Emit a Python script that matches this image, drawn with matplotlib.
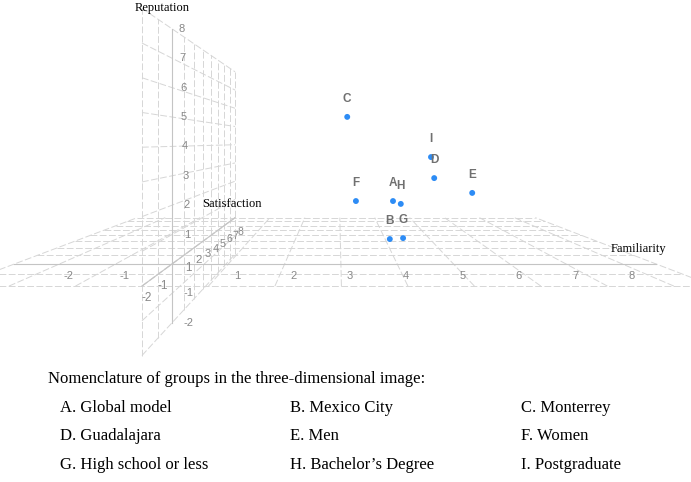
import matplotlib.pyplot as plt
import numpy as np

# groups plotted in the 3D view (familiarity, satisfaction, reputation)
groups = ['A', 'B', 'C', 'D', 'E', 'F', 'G', 'H', 'I']
group_names = ['Global model', 'Mexico City', 'Monterrey',
               'Guadalajara', 'Men', 'Women',
               'High school or less', 'Bachelor\u2019s Degree', 'Postgraduate']
familiarity = [4.15, 4.08, 3.15, 5.05, 5.88, 3.34, 4.37, 4.32, 4.98]
satisfaction = [3.0, 3.0, 3.0, 3.0, 3.0, 3.0, 3.0, 3.0, 3.0]
reputation = [1.68, 0.09, 5.20, 2.64, 2.02, 1.68, 0.13, 1.56, 3.52]

fam_ticks = [-2, -1, 1, 2, 3, 4, 5, 6, 7, 8]
sat_ticks = [-2, -1, 1, 2, 3, 4, 5, 6, 7, 8]
rep_ticks = [-2, -1, 1, 2, 3, 4, 5, 6, 7, 8]

# simple one-point perspective (pixel space of the figure)
VPX, VPY = 338.0, 142.0
DEPTH = 0.0766
OX, OY = 172.0, 264.0
KX, KZ = 56.3, 29.4


def proj(x, s, r):
    x, s, r = np.asarray(x, float), np.asarray(s, float), np.asarray(r, float)
    t = 1.0 / (1.0 + DEPTH * s)
    u = VPX + (OX + KX * x - VPX) * t
    v = VPY + (OY - KZ * r - VPY) * t
    return u, v


W, H = 691, 482
fig = plt.figure(figsize=(W / 100, H / 100), dpi=100)
ax = fig.add_axes([0, 0, 1, 1])
ax.set_xlim(0, W)
ax.set_ylim(H, 0)
ax.axis('off')

grid_kw = dict(color='#d6d6d6', lw=0.7, ls=(0, (7, 2.5)), zorder=1)
axis_kw = dict(color='#c4c4c4', lw=0.8, zorder=1)

# floor (reputation = 0)
x_lo, x_hi = -2.8, 8.6
for s in range(-2, 9):
    u, v = proj([x_lo, x_hi], [s, s], [0, 0])
    ax.plot(u, v, **grid_kw)
for x in [x_lo] + list(range(-2, 9)) + [x_hi]:
    u, v = proj([x, x], [-2, 8], [0, 0])
    ax.plot(u, v, **grid_kw)

# wall (familiarity = 0)
r_lo, r_hi = -2.0, 8.0
for r in range(-2, 9):
    u, v = proj([0, 0], [-2, 8], [r, r])
    ax.plot(u, v, **grid_kw)
for s in range(-2, 9):
    u, v = proj([0, 0], [s, s], [r_lo, r_hi])
    ax.plot(u, v, **grid_kw)

# axis lines
ax.plot(*proj([x_lo, x_hi], [0, 0], [0, 0]), **axis_kw)
ax.plot(*proj([0, 0], [-2, 8], [0, 0]), **axis_kw)
ax.plot(*proj([0, 0], [0, 0], [r_lo, r_hi]), **axis_kw)

tick_kw = dict(color='#888888', family='Liberation Sans', ha='center', va='center', zorder=3)
for x in fam_ticks:
    u, v = proj(x, 0, 0)
    ax.text(u + 9, v + 12, str(x), fontsize=8, **tick_kw)
for r in rep_ticks:
    u, v = proj(0, 0, r)
    ax.text(u + 15.5 - 0.7 * r, v, str(r), fontsize=8, **tick_kw)
for s in sat_ticks:
    u, v = proj(0, s, 0)
    t = 1.0 / (1.0 + DEPTH * s)
    ax.text(u + 5, v + 12 + 0.3 * max(s, 0), str(s), fontsize=min(8.5, 8.6 * t ** 0.3), **tick_kw)

title_kw = dict(family='Liberation Serif', fontsize=9, color='black', ha='center', va='center')
ax.text(162, 8, 'Reputation', **title_kw)
ax.text(232, 204, 'Satisfaction', **title_kw)
ax.text(638, 249, 'Familiarity', **title_kw)

# points
pu, pv = proj(familiarity, satisfaction, reputation)
ax.scatter(pu, pv, s=18, color='#2d8cf5', edgecolors='none', zorder=5)
for g, u, v in zip(groups, pu, pv):
    ax.text(u, v - 18, g, fontsize=8.5, fontweight='bold', color='#707070',
            family='Liberation Sans', ha='center', va='center', zorder=6)

# legend text below the chart
txt_kw = dict(family='Liberation Serif', fontsize=12, color='black', va='center')
ax.text(48, 379, 'Nomenclature of groups in the three-dimensional image:', **txt_kw)
col_x = [60, 290, 521]
row_y = [408, 436, 465]
for i, (g, name) in enumerate(zip(groups, group_names)):
    ax.text(col_x[i % 3], row_y[i // 3], f'{g}. {name}', **txt_kw)

fig.savefig('out.png', dpi=100)
